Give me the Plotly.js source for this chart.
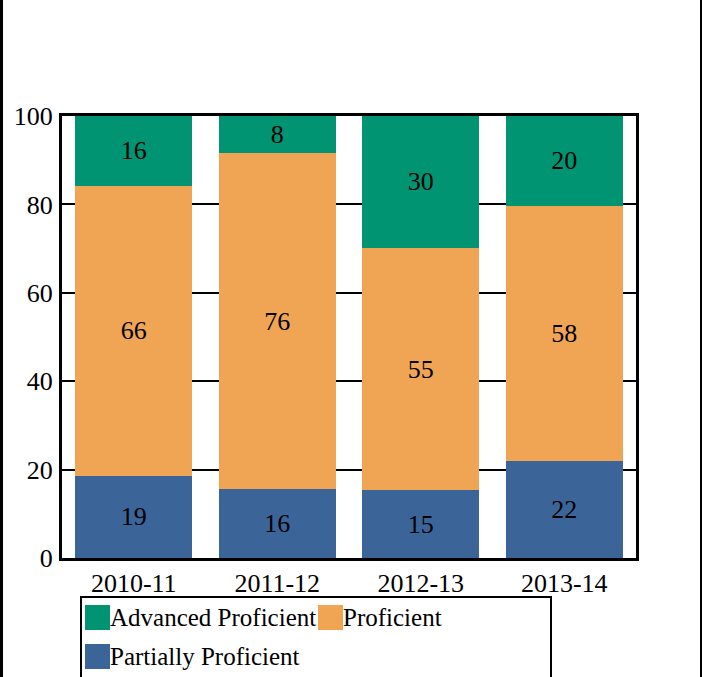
<!DOCTYPE html>
<html>
<head>
<meta charset="utf-8">
<script src="https://cdn.plot.ly/plotly-3.0.1.min.js"></script>
<style>
  html, body { margin: 0; padding: 0; background: #fff; }
  #wrap { position: relative; width: 702px; height: 677px; overflow: hidden; }
  #chart { width: 702px; height: 677px; }
  #frame { position: absolute; left: 0; top: -5px; width: 697px; height: 690px;
           border-left: 3px solid #000; border-right: 2px solid #000; pointer-events: none; }
</style>
</head>
<body>
<div id="wrap">
  <div id="chart"></div>
  <div id="frame"></div>
</div>
<script>
const years = ["2010-11", "2011-12", "2012-13", "2013-14"];
const partiallyProficient = [18.6, 15.6, 15.3, 21.9];
const proficient = [65.6, 76.0, 54.9, 57.8];
const advancedProficient = [15.8, 8.4, 29.8, 20.3];
const seriesNames = ["Advanced Proficient", "Proficient", "Partially Proficient"];
const seriesColors = ["#009473", "#F0A555", "#3B6599"];
const yTicks = [0, 20, 40, 60, 80, 100];

const FONT = "'Liberation Serif', 'Times New Roman', Times, serif";

function barTrace(name, vals, color) {
  return {
    type: "bar", name: name, x: years, y: vals,
    marker: { color: color, line: { width: 0 } },
    texttemplate: "%{y:.0f}", textposition: "inside", insidetextanchor: "middle",
    constraintext: "none",
    textfont: { family: FONT, size: 26, color: "#000" },
    hoverinfo: "x+y+name", showlegend: false
  };
}

const data = [
  barTrace(seriesNames[2], partiallyProficient, seriesColors[2]),
  barTrace(seriesNames[1], proficient, seriesColors[1]),
  barTrace(seriesNames[0], advancedProficient, seriesColors[0])
];

// plot area in pixels: x 62..636, y 116..558
const L = 62, R = 636, T = 116, B = 558;
const W = R - L, H = B - T;
const px = v => (v - L) / W;
const py = v => (B - v) / H;

// custom legend (box, swatches, labels)
const legendItems = [
  { name: seriesNames[0], color: seriesColors[0], sx: 85, ty: 605 },
  { name: seriesNames[1], color: seriesColors[1], sx: 318, ty: 605 },
  { name: seriesNames[2], color: seriesColors[2], sx: 85, ty: 644 }
];
const shapes = [{
  type: "rect", xref: "paper", yref: "paper",
  x0: px(81), x1: px(551), y0: py(597), y1: py(678),
  line: { color: "#000", width: 2 }, fillcolor: "rgba(0,0,0,0)", layer: "above"
}];
const annotations = [];
legendItems.forEach(it => {
  shapes.push({
    type: "rect", xref: "paper", yref: "paper",
    x0: px(it.sx), x1: px(it.sx + 25), y0: py(it.ty + 25), y1: py(it.ty),
    line: { width: 0 }, fillcolor: it.color, layer: "above"
  });
  annotations.push({
    xref: "paper", yref: "paper", x: px(it.sx + 23), y: py(it.ty + 12),
    xanchor: "left", yanchor: "middle", showarrow: false,
    text: it.name, font: { family: FONT, size: 25, color: "#000" }
  });
});

const layout = {
  width: 702, height: 677,
  margin: { l: L, r: 702 - R, t: T, b: 677 - B, pad: 0 },
  paper_bgcolor: "#fff", plot_bgcolor: "#fff",
  barmode: "stack", bargap: 0.185,
  font: { family: FONT, size: 26, color: "#000" },
  showlegend: false,
  xaxis: {
    type: "category", range: [-0.5, 3.5],
    showline: true, linecolor: "#000", linewidth: 3, mirror: true,
    showgrid: false, ticks: "", ticklabelstandoff: 0,
    tickfont: { family: FONT, size: 26, color: "#000" }, fixedrange: true
  },
  yaxis: {
    range: [0, 100], tickvals: yTicks, ticktext: yTicks.map(String),
    showline: true, linecolor: "#000", linewidth: 3, mirror: true,
    showgrid: true, gridcolor: "#000", gridwidth: 2, zeroline: false,
    ticks: "", ticklabelstandoff: 1,
    tickfont: { family: FONT, size: 26, color: "#000" }, fixedrange: true
  },
  shapes: shapes,
  annotations: annotations
};

Plotly.newPlot("chart", data, layout, { displayModeBar: false, staticPlot: true });
</script>
</body>
</html>
